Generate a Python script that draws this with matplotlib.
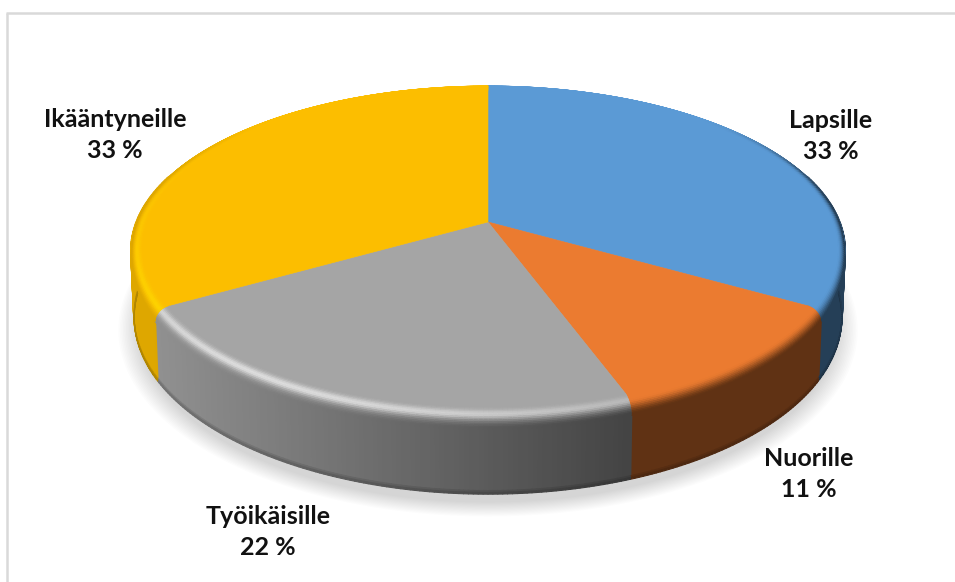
import numpy as np
import matplotlib
matplotlib.use('Agg')
import matplotlib.pyplot as plt
from matplotlib.collections import PolyCollection
from matplotlib.colors import to_rgb
from matplotlib.patches import Polygon

plt.rcParams['font.family'] = ['Lato', 'DejaVu Sans']

labels = ['Lapsille', 'Nuorille', 'Työikäisille', 'Ikääntyneille']
values = [33, 11, 22, 33]
colors = ['#5B9AD5', '#EB7B30', '#A5A5A5', '#FCBE00']
shine = ['#5B9AD5', '#EB7B30', '#DEDEDE', '#FFD800']
label_pos = [(831, 136), (809, 474), (268, 532), (115, 135)]

# disc geometry in pixels, with a simple perspective divide
cx, cy = 488, 222
A, B = 351.6, 159.6
persp = 0.173
depth = 65.5
taper = 0.009


def project(theta, r=1.0, d=0.0):
    t = np.radians(theta)
    u, v = r * np.sin(t), r * np.cos(t)
    w = 1 + persp * v
    x = cx + A * u / w * (1 - taper * d / depth)
    y = cy + (-B * v + d) / w
    return np.column_stack([np.atleast_1d(x), np.atleast_1d(y)])


def smooth(a, lo, hi):
    s = np.clip((a - lo) / (hi - lo), 0, 1)
    return s * s * (3 - 2 * s)


def side_shade(x):
    return np.interp(x, [150, 630], [0.88, 0.41])


fig = plt.figure(figsize=(9.55, 5.82), dpi=100)
ax = fig.add_axes([0, 0, 1, 1])
ax.set_xlim(0, 955)
ax.set_ylim(582, 0)
ax.axis('off')

# chart frame
ax.plot([7, 7], [582, 13], color='#D9D9D9', lw=1.8, solid_capstyle='butt')
ax.plot([6, 955], [13, 13], color='#D9D9D9', lw=1.8, solid_capstyle='butt')

# soft shadow under the disc
arc = np.linspace(0, 360, 241)
for grow in np.linspace(1.045, 0.99, 14):
    pts = project(arc, grow, depth + 9)
    ax.add_patch(Polygon(pts, closed=True, fc='black', ec='none', alpha=0.011, zorder=1))

total = sum(values)
start = 0.0
edges = []
for val in values:
    edges.append((start, start + 360.0 * val / total))
    start += 360.0 * val / total

side_quads, side_cols = [], []
foot_quads, foot_cols = [], []
top_quads, top_cols = [], []
for (a0, a1), col, hi in zip(edges, colors, shine):
    base = np.array(to_rgb(col))
    light = np.array(to_rgb(hi))
    n = max(int((a1 - a0) * 1.5), 2)
    steps = np.linspace(a0, a1, n + 1)

    # flat top of the slice
    arc_pts = project(steps)
    ax.add_patch(Polygon(np.vstack([[cx, cy], arc_pts]), closed=True, fc=col, ec=col, lw=0.4, zorder=3))

    for th0, th1 in zip(steps[:-1], steps[1:]):
        mid = (th0 + th1) / 2
        v = np.cos(np.radians(mid))
        xmid = project(mid)[0, 0]
        dark = base * side_shade(xmid)

        # outer wall, only the part facing the viewer
        if v < 0.3:
            side_quads.append(np.vstack([project([th0, th1], 1.0, 0), project([th1, th0], 1.0, depth - 3)]))
            side_cols.append(dark)
            for d0, d1, f in [(depth - 3, depth - 1.5, 0.9), (depth - 1.5, depth, 0.8)]:
                foot_quads.append(np.vstack([project([th0, th1], 1.0, d0), project([th1, th0], 1.0, d1)]))
                foot_cols.append(dark * f)

        # rounded rim between the top and the wall
        face = smooth(-v, -0.75, -0.1)
        spec = smooth(1 - abs(mid - 215) / 95, 0, 1)
        drop = smooth(-v, -0.1, 0.6) * 12
        ts = np.linspace(0, 1, 17)
        for t0, t1 in zip(ts[:-1], ts[1:]):
            tm = (t0 + t1) / 2
            c = base + (dark - base) * smooth(tm, 0.35, 0.95) * face
            c = c + (light - c) * spec * np.exp(-((tm - 0.42) / 0.17) ** 2)
            r0 = 0.96 + 0.04 * np.sin(t0 * np.pi / 2)
            r1 = 0.96 + 0.04 * np.sin(t1 * np.pi / 2)
            d0 = drop * (1 - np.cos(t0 * np.pi / 2))
            d1 = drop * (1 - np.cos(t1 * np.pi / 2))
            top_quads.append(np.vstack([project([th0, th1], r0, d0), project([th1, th0], r1, d1)]))
            top_cols.append(np.clip(c, 0, 1))

# thick edges close the hairline gaps between neighbouring quads
for quads, cols, lw, z in [(side_quads, side_cols, 1.4, 2), (foot_quads, foot_cols, 0.8, 2.5), (top_quads, top_cols, 0.5, 4)]:
    coll = PolyCollection(quads, facecolors=cols, edgecolors=cols, linewidths=lw, zorder=z)
    coll.set_snap(False)
    ax.add_collection(coll)

for name, val, (lx, ly) in zip(labels, values, label_pos):
    ax.text(lx, ly, '{}\n{} %'.format(name, val), ha='center', va='center', fontsize=18,
            fontweight='bold', color='#111111', linespacing=1.42, zorder=5)

fig.savefig('out.png', dpi=100, facecolor='white')
